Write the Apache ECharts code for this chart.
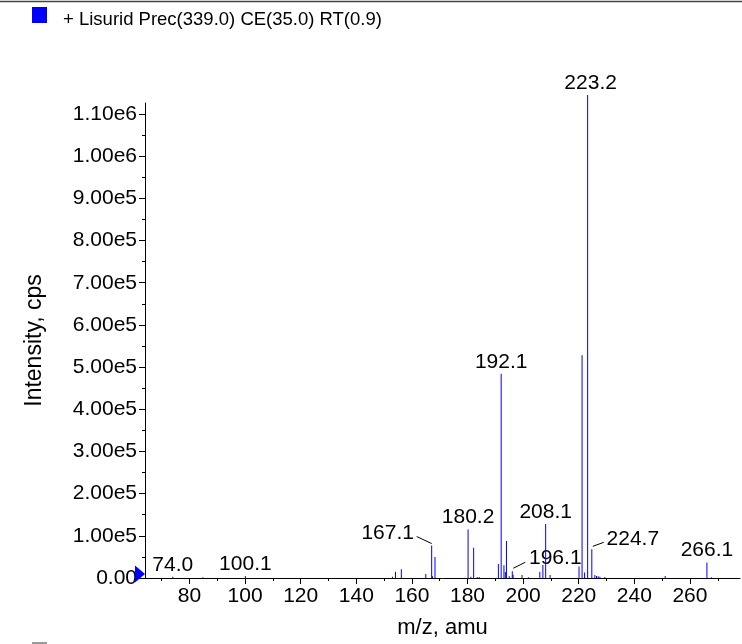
<!DOCTYPE html>
<html>
<head>
<meta charset="utf-8">
<script src="https://cdn.jsdelivr.net/npm/echarts@6/dist/echarts.min.js"></script>
<style>
html,body{margin:0;padding:0;background:#fff;}
#chart{width:742px;height:644px;}
</style>
</head>
<body>
<div id="chart"></div>
<script>
// ---- data ----
const seriesName = '+ Lisurid Prec(339.0) CE(35.0) RT(0.9)';
const mz = [74.0, 84.8, 100.1, 153.0, 154.1, 156.2, 165.0, 167.1, 167.4, 168.3,
  180.2, 181.2, 182.2, 183.5, 184.2, 191.1, 192.1, 193.1, 193.6, 194.0,
  195.0, 196.1, 196.4, 199.6, 201.9, 206.0, 207.1, 208.1, 209.7, 220.1,
  221.2, 222.1, 223.2, 224.7, 225.8, 226.4, 227.0, 227.6, 229.4, 251.1,
  266.1, 267.8];
const intensity = [3000, 1500, 5000, 3000, 15000, 21000, 9500, 77000, 4000, 50000,
  115000, 3000, 72000, 2500, 2500, 33000, 484000, 30000, 14000, 88000,
  4000, 16000, 8000, 7000, 2000, 15000, 31000, 128000, 7000, 27000,
  528000, 13000, 1145000, 68000, 7000, 5000, 4000, 3000, 2500, 5000,
  37000, 2000];
const labelledMz = [74.0, 100.1, 167.1, 180.2, 192.1, 196.1, 208.1, 223.2, 224.7, 266.1];
const xMajorTicks = [80, 100, 120, 140, 160, 180, 200, 220, 240, 260];
const xMinorTicks = [70, 90, 110, 130, 150, 170, 190, 210, 230, 250, 270];
const yMajorTicks = [0, 100000, 200000, 300000, 400000, 500000, 600000, 700000, 800000, 900000, 1000000, 1100000];
const yMinorTicks = [50000, 150000, 250000, 350000, 450000, 550000, 650000, 750000, 850000, 950000, 1050000];
const xRange = [64, 278];
const yRange = [0, 1126000];

// ---- styles ----
const FONT = "'Liberation Sans', Arial, Helvetica, sans-serif";
const FS = 21;
// label placement relative to the peak top (pixels): text centre, optional leader line [x1,y1,x2,y2]
const labelPlacement = {
  '74.0':  { text: [0, -12] },
  '100.1': { text: [0, -12] },
  '167.1': { text: [-44, -12], line: [0, -2, -15, -9] },
  '180.2': { text: [0, -12] },
  '192.1': { text: [0, -12] },
  '196.1': { text: [43, -13], line: [1, -3, 13, -9] },
  '208.1': { text: [0, -12] },
  '223.2': { text: [3, -12] },
  '224.7': { text: [41, -10], line: [1, -3, 12, -7] },
  '266.1': { text: [0, -12] }
};

const chart = echarts.init(document.getElementById('chart'), null, { renderer: 'canvas' });

const barData = mz.map((m, i) => [m, intensity[i]]);
const labelData = labelledMz.map(m => [m, intensity[mz.indexOf(m)]]);

const yFmt = v => v === 0 ? '0.00' : v.toExponential(2).replace('e+', 'e');

const option = {
  animation: false,
  backgroundColor: '#fff',
  textStyle: { fontFamily: FONT },
  title: {
    text: seriesName,
    left: 63, top: 10, padding: 0,
    textStyle: { fontSize: 18.5, fontWeight: 'normal', color: '#000', fontFamily: FONT }
  },
  legend: {
    data: [seriesName],
    left: 32, top: 7, padding: 0,
    icon: 'rect', itemWidth: 15, itemHeight: 16,
    formatter: () => '',
    selectedMode: false
  },
  grid: { left: 145, right: 2, top: 103, bottom: 62 },
  xAxis: [{
    type: 'value', min: xRange[0], max: xRange[1],
    name: 'm/z, amu', nameLocation: 'middle', nameGap: 39,
    nameTextStyle: { fontSize: 22, color: '#000', fontFamily: FONT },
    axisLine: { show: true, onZero: false, lineStyle: { color: '#000', width: 1 } },
    axisTick: { show: true, length: 6, customValues: xMajorTicks, lineStyle: { color: '#000' } },
    axisLabel: { show: true, customValues: xMajorTicks, fontSize: FS, color: '#000', margin: 8, fontFamily: FONT },
    splitLine: { show: false }
  }, {
    type: 'value', min: xRange[0], max: xRange[1], position: 'bottom', gridIndex: 0,
    axisLine: { show: false },
    axisTick: { show: true, length: 3, customValues: xMinorTicks, lineStyle: { color: '#000' } },
    axisLabel: { show: false },
    splitLine: { show: false }
  }],
  yAxis: [{
    type: 'value', min: yRange[0], max: yRange[1],
    name: 'Intensity, cps', nameLocation: 'middle', nameGap: 99,
    nameTextStyle: { fontSize: 23, color: '#000', fontFamily: FONT },
    axisLine: { show: true, onZero: false, lineStyle: { color: '#000', width: 1 } },
    axisTick: { show: true, length: 6, customValues: yMajorTicks, lineStyle: { color: '#000' } },
    axisLabel: { show: true, customValues: yMajorTicks, formatter: yFmt, fontSize: FS, color: '#000', margin: 8, fontFamily: FONT },
    splitLine: { show: false }
  }, {
    type: 'value', min: yRange[0], max: yRange[1], position: 'left', gridIndex: 0,
    axisLine: { show: false },
    axisTick: { show: true, length: 3, customValues: yMinorTicks, lineStyle: { color: '#000' } },
    axisLabel: { show: false },
    splitLine: { show: false }
  }],
  series: [{
    name: seriesName,
    type: 'bar',
    xAxisIndex: 0, yAxisIndex: 0,
    data: barData,
    barWidth: 1,
    clip: false,
    itemStyle: { color: '#0000ff' },
    emphasis: { disabled: true },
    markPoint: {
      silent: true,
      data: [{
        coord: [xRange[0], 0],
        symbol: 'triangle', symbolSize: [17, 10], symbolRotate: -90, symbolOffset: [-5, -4],
        itemStyle: { color: '#0000ff' },
        label: { show: false }
      }]
    }
  }, {
    name: 'labels',
    type: 'custom',
    xAxisIndex: 0, yAxisIndex: 0,
    data: labelData,
    clip: false,
    silent: true,
    renderItem: function (params, api) {
      const m = api.value(0);
      const key = m.toFixed(1);
      const pl = labelPlacement[key] || { text: [0, -12] };
      const pt = api.coord([m, api.value(1)]);
      const children = [{
        type: 'text',
        style: {
          text: key,
          x: pt[0] + pl.text[0], y: pt[1] + pl.text[1],
          align: 'center', verticalAlign: 'middle',
          font: FS + 'px ' + FONT, fill: '#000'
        }
      }];
      if (pl.line) {
        children.push({
          type: 'line',
          shape: { x1: pt[0] + pl.line[0], y1: pt[1] + pl.line[1], x2: pt[0] + pl.line[2], y2: pt[1] + pl.line[3] },
          style: { stroke: '#000', lineWidth: 1 }
        });
      }
      return { type: 'group', children: children };
    }
  }],
  graphic: [
    { type: 'line', shape: { x1: 0, y1: 1.5, x2: 742, y2: 1.5 }, style: { stroke: '#444', lineWidth: 1.5 } },
    { type: 'rect', shape: { x: 32, y: 642, width: 15, height: 15 }, style: { fill: '#999' } }
  ]
};

chart.setOption(option);
</script>
</body>
</html>
